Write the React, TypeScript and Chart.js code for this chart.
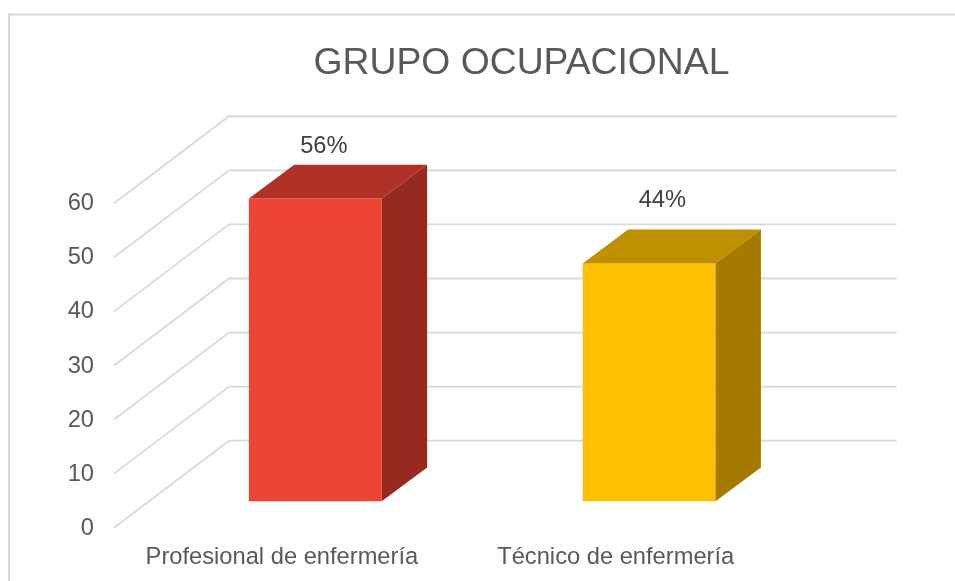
import React, { useEffect, useRef } from "react";
import { Chart, registerables } from "chart.js";

Chart.register(...registerables);

const title = "GRUPO OCUPACIONAL";
const categories = ["Profesional de enfermería", "Técnico de enfermería"];
const values = [56, 44];
const valueLabels = ["56%", "44%"];
const yTickStep = 10;
const yMax = 60;

const frontColors = ["#EE4433", "#FFC000"];
const topColors = ["#B03226", "#BF9000"];
const sideColors = ["#962A20", "#A47B00"];

const FONT = "'Liberation Sans', Arial, sans-serif";
const TEXT = "#595959";
const GRID = "#D9D9D9";

// 3D geometry of the drawing (pixels)
const wallDepth = { x: 115, y: -87 };
const barShift = { x: 34.4, y: -26.4 };
const barDepth = { x: 45.4, y: -33.8 };
// hand-placed offsets of the value labels relative to the top of each bar
const labelNudge = [
  { x: 8.6, y: -52 },
  { x: 13.3, y: -63 },
];

const threeD = {
  id: "threeD",
  beforeDraw(chart: any) {
    const { ctx, width, height } = chart;
    ctx.save();
    ctx.strokeStyle = GRID;
    ctx.lineWidth = 2;
    ctx.beginPath();
    ctx.moveTo(9, height + 2);
    ctx.lineTo(9, 14.5);
    ctx.lineTo(width + 2, 14.5);
    ctx.stroke();
    ctx.restore();
  },
  beforeDatasetsDraw(chart: any) {
    const { ctx, chartArea } = chart;
    const y = chart.scales.y;
    ctx.save();
    ctx.strokeStyle = GRID;
    ctx.lineWidth = 1.8;
    for (const t of y.ticks) {
      const py = y.getPixelForValue(t.value);
      ctx.beginPath();
      ctx.moveTo(chartArea.left, py);
      ctx.lineTo(chartArea.left + wallDepth.x, py + wallDepth.y);
      ctx.lineTo(chartArea.right + wallDepth.x, py + wallDepth.y);
      ctx.stroke();
    }
    ctx.restore();
  },
  beforeDatasetDraw(chart: any) {
    chart.ctx.save();
    chart.ctx.translate(barShift.x, barShift.y);
  },
  afterDatasetDraw(chart: any, args: any) {
    const { ctx } = chart;
    const bars = chart.getDatasetMeta(args.index).data;
    bars.forEach((bar: any, i: number) => {
      const l = bar.x - bar.width / 2;
      const r = bar.x + bar.width / 2;
      const t = bar.y;
      const b = bar.base;
      ctx.fillStyle = topColors[i];
      ctx.beginPath();
      ctx.moveTo(l, t);
      ctx.lineTo(l + barDepth.x, t + barDepth.y);
      ctx.lineTo(r + barDepth.x, t + barDepth.y);
      ctx.lineTo(r, t);
      ctx.closePath();
      ctx.fill();
      ctx.fillStyle = sideColors[i];
      ctx.beginPath();
      ctx.moveTo(r, t);
      ctx.lineTo(r + barDepth.x, t + barDepth.y);
      ctx.lineTo(r + barDepth.x, b + barDepth.y);
      ctx.lineTo(r, b);
      ctx.closePath();
      ctx.fill();
      ctx.fillStyle = "#404040";
      ctx.font = `23.7px ${FONT}`;
      ctx.textAlign = "center";
      ctx.textBaseline = "middle";
      ctx.fillText(valueLabels[i], bar.x + labelNudge[i].x, t + labelNudge[i].y);
    });
    ctx.restore();
  },
  afterLayout(chart: any) {
    // the title is centred over the wall, not over the canvas
    const tb = chart.titleBlock;
    if (tb) {
      tb.left += 130.7;
      tb.right += 130.7;
    }
  },
};

export default function App() {
  const ref = useRef<HTMLCanvasElement>(null);
  useEffect(() => {
    const chart = new Chart(ref.current!, {
      type: "bar",
      data: {
        labels: categories,
        datasets: [
          {
            data: values,
            backgroundColor: frontColors,
            barPercentage: 0.398,
            categoryPercentage: 1,
            clip: false as any,
          },
        ],
      },
      options: {
        animation: false,
        responsive: false,
        layout: { padding: { left: 0, right: 173.4, top: 0, bottom: 0 } },
        plugins: {
          legend: { display: false },
          tooltip: { enabled: false },
          title: {
            display: true,
            text: title,
            color: TEXT,
            font: { family: FONT, size: 37.3, weight: "normal" },
            padding: { top: 41.6, bottom: 116.9 },
          },
        },
        scales: {
          x: {
            grid: { display: false },
            border: { display: false },
            afterFit: (s: any) => {
              s.height = 53.3;
            },
            ticks: {
              color: TEXT,
              font: { family: FONT, size: 23.7 },
              padding: 8,
              labelOffset: 1,
              maxRotation: 0,
            },
          },
          y: {
            min: 0,
            max: yMax,
            grid: { display: false },
            border: { display: false },
            afterFit: (s: any) => {
              s.width = 114;
            },
            ticks: {
              stepSize: yTickStep,
              color: TEXT,
              font: { family: FONT, size: 23.7 },
              padding: 12,
              labelOffset: 0.5,
            },
          },
        },
      },
      plugins: [threeD],
    });
    return () => chart.destroy();
  }, []);
  return (
    <div style={{ position: "fixed", left: 0, top: 0, width: 955, height: 581, background: "#fff" }}>
      <canvas ref={ref} width={955} height={581} style={{ display: "block" }} />
    </div>
  );
}
